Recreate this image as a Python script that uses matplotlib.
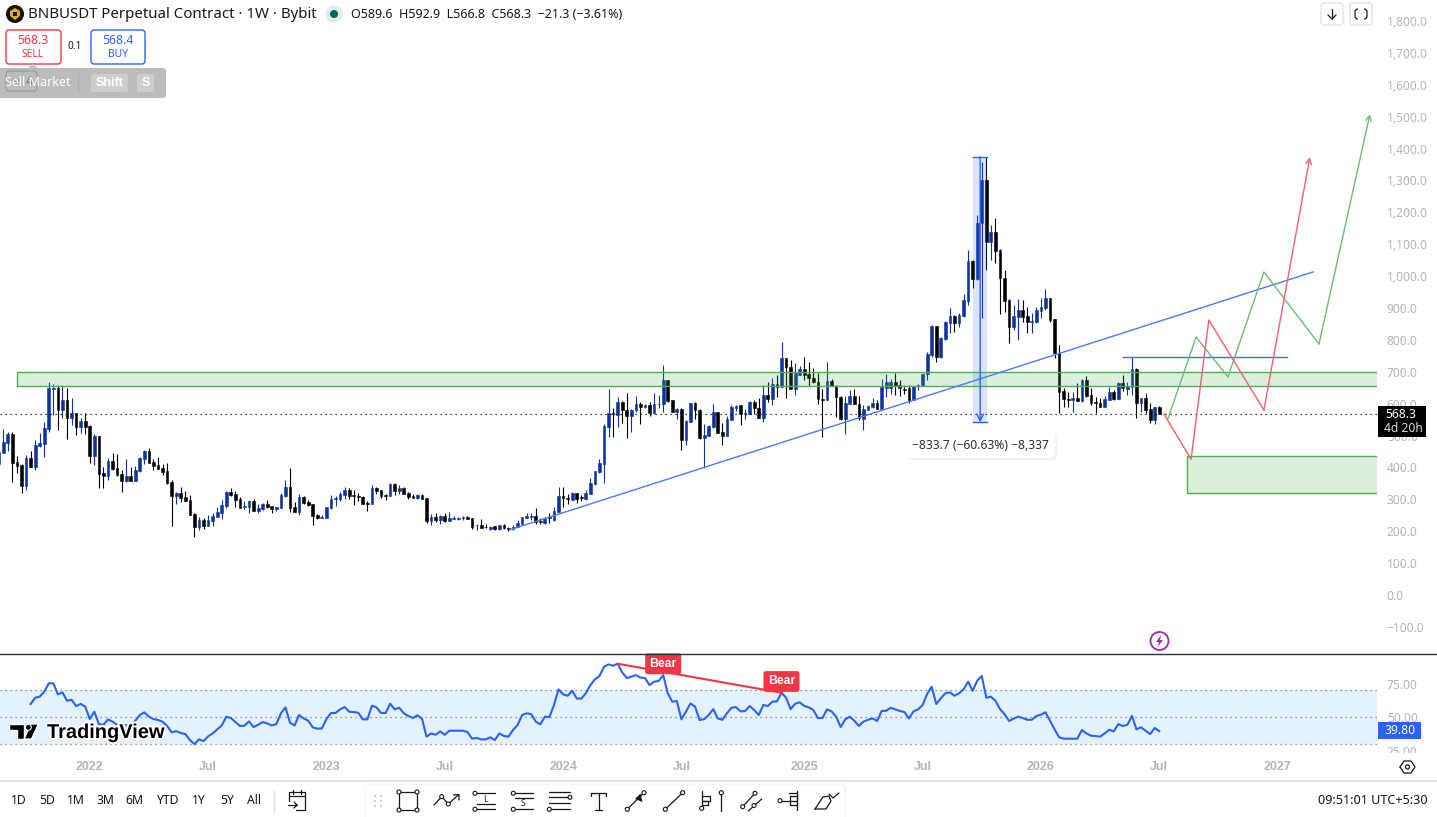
import numpy as np
import matplotlib
matplotlib.use("Agg")
import matplotlib.pyplot as plt
from matplotlib.patches import Circle, FancyBboxPatch, Polygon, Rectangle
import matplotlib.patheffects as pe

plt.rcParams['font.family'] = ['Noto Sans', 'DejaVu Sans']
BOLD_FONT = ['Liberation Sans', 'DejaVu Sans']

WIDTH, HEIGHT = 1437, 817
PANE_RIGHT = 1377
PRICE_BOTTOM = 653
RSI_BOTTOM = 753

UP_COLOR = '#0F339C'
DOWN_COLOR = '#000000'
TV_BLUE = '#2962FF'
TV_RED = '#F23645'
ZONE_GREEN = '#4CAF50'
AXIS_GRAY = '#B5B5B5'
TEXT_DARK = '#131722'

# weekly candles
opens = [411,446,477,505,417,408,342,430,401,467,
         473,521,646,649,580,611,555,571,527,546,
         530,436,499,383,373,420,398,379,357,373,
         357,389,426,452,417,408,398,389,354,310,
         320,307,298,254,213,235,216,232,245,257,
         279,323,317,301,276,276,295,263,270,285,
         279,270,273,310,339,276,260,307,292,285,
         251,241,241,273,301,301,314,329,314,310,
         307,289,285,336,329,314,310,348,326,336,
         320,310,304,314,304,232,245,235,248,232,
         238,238,241,245,241,218,220,213,208,217,
         206,218,209,208,212,222,243,245,248,232,
         227,245,235,260,310,303,298,320,306,300,
         317,348,386,411,527,571,564,605,580,561,
         580,599,590,597,571,598,599,674,611,574,
         583,486,543,602,580,492,499,527,574,511,
         499,549,586,596,568,568,605,586,555,627,
         615,662,652,743,716,646,690,709,693,680,
         667,616,611,671,655,621,552,599,624,599,
         552,581,590,602,583,649,650,668,658,646,
         649,611,656,658,693,753,845,745,803,852,
         876,854,876,923,1047,990,1165,1301,1108,1137,
         1082,993,925,841,873,893,876,857,857,891,
         901,930,865,760,641,614,612,617,609,674,
         627,606,601,591,612,638,616,664,647,653,
         709,603,617,582,549,589.6]
highs = [447,519,510,511,436,410,439,452,486,507,
         542,667,662,658,658,649,618,571,555,571,
         533,505,499,401,430,445,442,392,426,401,
         405,433,455,461,426,433,411,414,361,323,
         339,326,314,257,245,241,251,257,276,298,
         326,336,326,307,295,298,301,285,289,298,
         279,276,320,361,398,292,317,310,298,285,
         254,251,276,314,310,323,339,336,329,320,
         310,295,345,339,329,317,351,351,345,339,
         323,317,317,317,304,254,257,251,257,260,
         248,245,248,248,241,223,238,223,215,217,
         219,222,214,219,235,245,258,256,272,240,
         246,258,277,339,339,317,323,320,313,329,
         366,389,427,537,646,585,621,608,633,583,
         624,605,600,605,633,627,721,674,611,586,
         586,549,602,605,583,536,533,599,574,539,
         561,596,596,596,583,608,611,618,658,667,
         679,690,792,743,737,726,718,746,731,712,
         696,646,730,677,659,624,624,643,646,624,
         596,596,618,611,677,693,677,695,674,659,
         659,655,661,695,763,847,845,808,860,899,
         878,883,944,1082,1050,1192,1359,1375,1160,1181,
         1084,1019,927,909,928,925,904,883,904,930,
         959,930,865,784,648,638,638,666,676,687,
         648,620,617,624,653,643,669,690,669,745,
         711,617,633,601,591,592.9]
lows = [411,446,452,354,384,321,329,401,392,464,
        433,511,564,517,555,489,533,502,508,505,
        414,408,336,336,361,392,373,323,354,357,
        357,386,411,414,392,395,376,348,216,285,
        292,295,251,182,204,207,216,216,245,238,
        273,310,276,273,270,257,263,257,267,273,
        257,263,273,307,260,260,251,285,279,220,
        238,241,241,270,279,295,301,301,282,295,
        285,263,285,317,304,298,310,314,317,317,
        301,304,301,301,226,220,229,223,229,232,
        238,235,235,238,207,204,210,209,204,205,
        204,206,202,204,212,222,241,235,223,223,
        223,227,233,260,277,285,298,290,296,298,
        317,345,383,351,496,495,527,540,492,511,
        574,536,585,561,567,586,574,605,574,552,
        455,470,543,552,489,398,499,524,508,470,
        499,549,577,533,552,568,568,555,543,605,
        596,621,652,618,646,627,690,674,655,664,
        599,495,611,655,558,549,505,599,599,549,
        517,580,586,583,583,621,630,627,624,630,
        603,610,643,655,674,745,732,742,800,821,
        826,841,873,910,962,988,868,1019,1051,1040,
        880,888,791,831,800,857,821,823,852,868,
        894,857,742,572,589,591,575,609,606,622,
        596,570,589,589,610,610,614,641,627,627,
        556,575,570,538,536,566.8]
closes = [447,480,505,415,405,342,430,401,470,477,
          524,649,649,580,611,555,571,527,546,527,
          436,499,379,373,420,395,376,357,373,357,
          392,430,452,414,405,395,386,351,310,320,
          304,295,251,213,235,216,235,248,260,282,
          323,314,298,273,279,295,263,273,285,276,
          270,276,314,339,273,260,307,289,282,248,
          241,245,276,301,304,317,329,310,310,307,
          285,285,336,326,310,310,348,326,336,317,
          307,304,314,301,232,245,235,248,232,241,
          241,241,245,238,213,220,210,212,213,206,
          218,209,208,213,226,244,248,248,230,228,
          241,240,262,310,304,301,320,301,303,320,
          351,388,414,530,571,568,605,580,561,580,
          599,590,597,571,599,600,674,608,574,583,
          486,546,602,580,492,502,530,574,508,499,
          552,590,592,568,571,605,586,555,627,615,
          662,652,743,716,646,695,709,690,680,667,
          615,613,671,655,621,552,602,624,599,555,
          583,593,602,583,652,668,668,658,649,644,
          612,655,658,693,756,845,745,807,855,876,
          854,878,925,1047,990,1165,1301,1108,1137,1080,
          993,923,841,876,893,873,857,859,893,902,
          930,862,758,638,614,612,617,609,674,624,
          601,601,591,614,638,614,666,648,655,709,
          603,617,580,549,591,568.3]

# RSI of the close, first value sits on candle number 7
rsi_start = 7
rsi_values = [59.9,64.5,65.3,69,75.2,75.2,67,68.5,62.3,63,
              58.4,59.9,57.9,48.7,54.2,45,44.5,48.5,46.8,44.5,
              42.6,44.3,43.6,47.5,51.7,53.7,50.5,48.7,48,46.8,
              43.6,38.9,39.8,38.4,37.6,33.2,30.2,33.7,32.4,35.9,
              38.1,41.1,44,50.5,49.5,46.5,43.6,43.8,47,42.8,
              44.5,46.5,45.5,44,45,53,57.4,46,44,51.7,
              49.2,47.5,42.6,41.6,41.8,48.7,53.2,53.2,55.9,57.6,
              54.2,53.9,53.4,48.5,48.5,58.6,57.4,53.2,53.2,60.1,
              55.9,57.1,53,51,49.5,51.5,49,35.7,38.1,37.1,
              39.6,37.1,40.1,40.1,40.1,40.1,39.1,34.2,34.7,33.7,
              33.7,35.2,33.2,38.1,36.2,35.7,40.6,44.3,51.7,53,
              52.4,46.8,44.8,50.5,50.2,59.1,70.7,67,66,69.7,
              64,63.8,67.8,73.9,78.1,80.6,87.5,89.2,88.2,89.7,
              83.3,79.1,80.1,81.3,79.4,79.1,73.9,76.4,76.9,81.3,
              67.8,61.6,62.1,48.5,54.2,60.3,57.9,48,48.7,51.7,
              56.1,49.2,48.2,53,57.1,57.6,54.4,54.7,58.4,55.4,
              51.7,59.1,58.4,61.6,61.8,68.2,64.5,56.1,60.1,61.1,
              58.4,57.4,55.4,49.5,49.5,55.9,54.4,50.5,42.8,48.5,
              50.5,47.5,43.6,46.8,48.2,49.2,47.3,54.7,54.9,57.1,
              55.9,54.7,53.9,49.2,54.4,55.9,59.1,67.3,72.7,59.9,
              64,67.8,68.5,66,67.8,70.7,76.4,69.7,77.1,80.6,
              64.5,65.3,62.3,56.1,52.4,47.3,49,50.5,49.5,48.2,
              48.2,51,52,53.7,47.5,41.1,35.2,34.2,34.2,34.2,
              34.2,40.6,38.1,36.4,36.2,35.7,38.1,40.8,39.6,45,
              43.6,44.5,51,41.1,42.6,40.1,37.6,42.1,39.8]

price_ticks = [-100,0,100,200,300,400,500,600,700,800,900,1000,1100,1200,1300,1400,1500,1600,1700,1800]
rsi_ticks = [25,50,75]
time_ticks = [20,46,72,98,124,150,177,203,229,255,281]
time_labels = ['2022','Jul','2023','Jul','2024','Jul','2025','Jul','2026','Jul','2027']
range_buttons = ['1D','5D','1M','3M','6M','YTD','1Y','5Y','All']
range_button_x = [19,47,76,105,134,167,199,227,254]

last_price = 568.3
last_rsi = 39.80

# drawings on the price pane, as (bar number, price)
zone_upper = (4.0, 654, 698)
zone_lower = (261.1, 320, 436)
trend_x = [112.2, 288.8]
trend_y = [204, 1013]
resistance_x = [247, 283]
resistance_y = [745, 745]
green_path_x = [256.9, 263.1, 270.1, 278.0, 290.1, 301.3]
green_path_y = [552, 809, 684, 1013, 787, 1508]
red_path_x = [256.0, 262.0, 265.9, 278.0, 288.1]
red_path_y = [568, 426, 862, 580, 1373]
measure_left, measure_right = 214.1, 217.2
measure_top = 1375.0
measure_change = -833.7
measure_bottom = measure_top + measure_change
divergence_bars = [136, 172]
bear_bars = [146, 172]

fig = plt.figure(figsize=(WIDTH / 100, HEIGHT / 100), dpi=100, facecolor='white')
ax = fig.add_axes([0, 1 - PRICE_BOTTOM / HEIGHT, PANE_RIGHT / WIDTH, PRICE_BOTTOM / HEIGHT])
ax_rsi = fig.add_axes([0, 1 - RSI_BOTTOM / HEIGHT, PANE_RIGHT / WIDTH, (RSI_BOTTOM - PRICE_BOTTOM - 1) / HEIGHT])
ui = fig.add_axes([0, 0, 1, 1], zorder=5)
ui.set_xlim(0, WIDTH)
ui.set_ylim(HEIGHT, 0)
ui.axis('off')
ui.patch.set_alpha(0)

# x scale is shared: one bar is 4.55 px wide
bar_left = 0.275
bar_right = 302.85
for a in (ax, ax_rsi):
    a.set_xlim(bar_left, bar_right)
    for s in a.spines.values():
        s.set_visible(False)
    a.yaxis.tick_right()
    a.tick_params(axis='both', length=0, labelcolor=AXIS_GRAY, labelsize=8.6)
    a.tick_params(axis='y', pad=7)

# === price pane ===
ax.set_ylim(-181.9, 1865.8)
ax.set_xticks([])
ax.set_yticks(price_ticks)
ax.set_yticklabels([f"{v:,.1f}".replace('-', '\u2212') for v in price_ticks])

bars = np.arange(len(opens))
o = np.array(opens)
h = np.array(highs)
l = np.array(lows)
c = np.array(closes)
colors = np.where(c >= o, UP_COLOR, DOWN_COLOR)
ax.vlines(bars, l, h, colors=colors, linewidth=0.8, zorder=2)
ax.bar(bars, c - o, bottom=o, width=0.6, color=colors, edgecolor=colors, linewidth=0.4, zorder=3)

ax.axhline(last_price, color='black', linewidth=0.9, linestyle=(0, (1, 3)), zorder=4)

for left, low, high in (zone_upper, zone_lower):
    ax.add_patch(Rectangle((left, low), bar_right - left, high - low, facecolor=ZONE_GREEN, alpha=0.2,
                           edgecolor='none', zorder=4))
    ax.plot([bar_right, left, left, bar_right], [low, low, high, high], color=ZONE_GREEN, linewidth=1, zorder=5)

ax.plot(trend_x, trend_y, color='#4A7BFF', linewidth=1, zorder=5)
ax.plot(resistance_x, resistance_y, color='#3D6FF5', linewidth=1, zorder=5)

ax.plot(green_path_x[:-1], green_path_y[:-1], color='#6ABF6E', linewidth=1, zorder=5)
ax.annotate('', xy=(green_path_x[-1], green_path_y[-1]), xytext=(green_path_x[-2], green_path_y[-2]),
            arrowprops=dict(arrowstyle='->', color='#6ABF6E', lw=1, shrinkA=0, shrinkB=0, mutation_scale=10), zorder=5)
ax.plot(red_path_x[:-1], red_path_y[:-1], color='#F4606C', linewidth=1, zorder=5)
ax.annotate('', xy=(red_path_x[-1], red_path_y[-1]), xytext=(red_path_x[-2], red_path_y[-2]),
            arrowprops=dict(arrowstyle='->', color='#F4606C', lw=1, shrinkA=0, shrinkB=0, mutation_scale=10), zorder=5)

# price range measurement
ax.add_patch(Rectangle((measure_left, measure_bottom), measure_right - measure_left, measure_top - measure_bottom,
                       facecolor=TV_BLUE, alpha=0.16, edgecolor='none', zorder=4))
ax.plot([measure_left, measure_right], [measure_top, measure_top], color=TV_BLUE, linewidth=1, zorder=6)
ax.plot([measure_left, measure_right], [measure_bottom, measure_bottom], color=TV_BLUE, linewidth=1, zorder=6)
measure_mid = (measure_left + measure_right) / 2
ax.annotate('', xy=(measure_mid, measure_bottom), xytext=(measure_mid, measure_top),
            arrowprops=dict(arrowstyle='->', color=TV_BLUE, lw=1, shrinkA=0, shrinkB=0, mutation_scale=12), zorder=6)

# === RSI pane ===
ax_rsi.set_ylim(23.6, 96.9)
rsi_x = np.arange(rsi_start, rsi_start + len(rsi_values))
ax_rsi.axhspan(30, 70, facecolor='#E3F2FD', edgecolor='none', zorder=1)
for level in (30, 50, 70):
    ax_rsi.axhline(level, color='#787B86', linewidth=0.9, linestyle=(0, (1, 3)), zorder=2)
ax_rsi.plot(rsi_x, rsi_values, color=TV_BLUE, linewidth=1.5, zorder=3)

rsi_at = dict(zip(rsi_x, rsi_values))
ax_rsi.plot(divergence_bars, [rsi_at[b] for b in divergence_bars], color=TV_RED, linewidth=1.5, zorder=4)
for b in bear_bars:
    ax_rsi.annotate('Bear', xy=(b, rsi_at[b]), xytext=(0, 3.8), textcoords='offset points', ha='center', va='bottom',
                    color='white', fontsize=8.8, fontweight='bold', family=BOLD_FONT, zorder=6,
                    bbox=dict(boxstyle='round,pad=0.36,rounding_size=0.2', facecolor=TV_RED, edgecolor='none'))

ax_rsi.set_yticks(rsi_ticks)
ax_rsi.set_yticklabels([f"{v:.2f}" for v in rsi_ticks])
ax_rsi.set_xticks(time_ticks)
ax_rsi.set_xticklabels(time_labels)
ax_rsi.tick_params(axis='x', pad=5.5)
for lab in ax_rsi.get_xticklabels():
    lab.set_fontweight('bold')
    lab.set_family(BOLD_FONT)
    lab.set_fontsize(9)


# === chart furniture, in pixel coordinates ===
def seg(xs, ys, color=TEXT_DARK, lw=0.9):
    ui.plot(xs, ys, color=color, linewidth=lw, solid_capstyle='round', zorder=5)


def knob(x, y, r=2.0):
    ui.add_patch(Circle((x, y), r, facecolor='white', edgecolor=TEXT_DARK, linewidth=0.8, zorder=6))


def box(x0, y0, x1, y1, face='white', edge='none', round_px=3, lw=1.0, alpha=None, zorder=3):
    ui.add_patch(FancyBboxPatch((x0, y0), x1 - x0, y1 - y0, boxstyle=f'round,pad=0,rounding_size={round_px}',
                                facecolor=face, edgecolor=edge, linewidth=lw, alpha=alpha, zorder=zorder))


def label(x, y, s, color=TEXT_DARK, size=9, ha='center', weight='normal', zorder=7, **kw):
    return ui.text(x, y, s, color=color, fontsize=size, ha=ha, va='center', fontweight=weight, zorder=zorder, **kw)


# pane separators
seg([0, WIDTH], [653.5, 653.5], color='#2A2E39', lw=1)
seg([0, WIDTH], [781, 781], color='#E0E3EB', lw=1.4)
ui.add_patch(Rectangle((1378, RSI_BOTTOM), WIDTH - 1378, 7, facecolor='white', edgecolor='none', zorder=2))

# header
ui.add_patch(Circle((15, 14), 9, facecolor='#111111', edgecolor='none'))
ui.add_patch(Polygon([(10, 11), (15, 8), (20, 11), (20, 16), (15, 20), (10, 16)], facecolor='#E8A912', edgecolor='none', zorder=4))
ui.add_patch(Rectangle((13, 12), 4, 4, facecolor='#111111', edgecolor='none', zorder=5))
label(28, 14, 'BNBUSDT Perpetual Contract \u00b7 1W \u00b7 Bybit', size=10.8, ha='left')
ui.add_patch(Circle((334, 14), 8.5, facecolor='#DDF0EC', edgecolor='none'))
ui.add_patch(Circle((334, 14), 4, facecolor='#00695C', edgecolor='none', zorder=4))
label(351, 14, 'O589.6  H592.9  L566.8  C568.3  \u221221.3 (\u22123.61%)', size=9.0, ha='left')

# order buttons
box(6, 30, 61, 64, edge=TV_RED)
label(33, 40, '568.3', color=TV_RED, size=8.8)
label(33, 54, 'SELL', color=TV_RED, size=7.4)
label(75, 46, '0.1', size=7.2)
box(91, 30, 145, 64, edge=TV_BLUE)
label(118, 40, '568.4', color=TV_BLUE, size=8.8)
label(118, 54, 'BUY', color=TV_BLUE, size=7.4)

# quantity box showing through the order hint
box(6, 71, 37, 91, edge='#777777', lw=0.8)
seg([13, 16, 19], [80, 83, 80], color=TEXT_DARK)
label(29, 81, '4', size=8.8, zorder=4)
box(-4, 68, 166, 98, face='#A0A0A0', round_px=3, alpha=0.7, zorder=6)
ui.add_patch(Polygon([(28, 68), (33, 64), (38, 68)], facecolor='#C4C4C4', edgecolor='none', zorder=5))
label(5, 82, 'Sell Market', color='white', size=9.0, ha='left')
seg([78, 78], [74, 92], color='#CCCCCC', lw=0.8)
box(91, 74, 128, 92, face='#CDCDCD', round_px=2, zorder=6)
label(109.5, 83, 'Shift', color='white', size=9, weight='bold', family=BOLD_FONT)
box(137, 74, 154, 92, face='#CDCDCD', round_px=2, zorder=6)
label(145.5, 83, 'S', color='white', size=9, weight='bold', family=BOLD_FONT)

# top right buttons
box(1321, 3, 1343, 25, edge='#E0E3EB')
seg([1332, 1332], [9, 19])
seg([1328, 1332, 1336], [15, 19, 15])
box(1350, 3, 1372, 25, edge='#E0E3EB')
ui.add_patch(FancyBboxPatch((1355, 9), 12, 10, boxstyle='round,pad=0,rounding_size=3', facecolor='none',
                            edgecolor=TEXT_DARK, linewidth=0.9, zorder=5))
ui.add_patch(Rectangle((1358, 7), 6, 4, facecolor='white', edgecolor='none', zorder=5))
ui.add_patch(Rectangle((1358, 17), 6, 4, facecolor='white', edgecolor='none', zorder=5))

# measurement tag
box(908, 434, 1057, 460, face='#000000', round_px=4, alpha=0.05, zorder=3)
box(906, 432, 1055, 458, face='white', round_px=4, zorder=4)
label(980.5, 445, f'\u2212{abs(measure_change)} (\u221260.63%) \u22128,337', size=8.7, color='#2A2E39')

# last price tags
ui.add_patch(Rectangle((1378, 406), 48, 31, facecolor='black', edgecolor='none', zorder=4))
label(1401, 414.5, f'{last_price}', color='white', size=8.7)
label(1403, 428.5, '4d 20h', color='#D8D8D8', size=8.7)
ui.add_patch(Rectangle((1378, 722), 43, 17, facecolor=TV_BLUE, edgecolor='none', zorder=4))
label(1400, 730.5, f'{last_rsi:.2f}', color='white', size=8.7)

# lightning badge
ui.add_patch(Circle((1159.5, 641), 9, facecolor='white', edgecolor='#9C27B0', linewidth=1.3))
ui.add_patch(Polygon([(1161, 635), (1156, 642), (1159, 642), (1157.5, 647), (1163, 640), (1160, 640)],
                     facecolor='#9C27B0', edgecolor='none', zorder=4))

# TradingView mark
halo = [pe.withStroke(linewidth=3, foreground='white')]
mark_t = Polygon([(9, 724), (23.5, 724), (23.5, 739), (16.5, 739), (16.5, 730), (9, 730)], facecolor='black', edgecolor='white', linewidth=1, zorder=6)
mark_slash = Polygon([(31, 724), (38.5, 724), (31.5, 739), (24, 739)], facecolor='black', edgecolor='white', linewidth=1, zorder=6)
ui.add_patch(mark_t)
ui.add_patch(mark_slash)
ui.add_patch(Circle((28.3, 727.3), 3, facecolor='black', edgecolor='white', linewidth=0.8, zorder=6))
label(47, 732.5, 'TradingView', color='black', size=14.4, ha='left', weight='bold', family=BOLD_FONT, path_effects=halo)

# settings hexagon below the scale
hex_x = [1400, 1404, 1411, 1415, 1411, 1404, 1400]
hex_y = [767, 761, 761, 767, 773, 773, 767]
seg(hex_x, hex_y)
ui.add_patch(Circle((1407.5, 767), 2, facecolor='none', edgecolor=TEXT_DARK, linewidth=0.9))

# bottom bar
for name, x in zip(range_buttons, range_button_x):
    label(x, 801, name, size=8.8)
seg([273.5, 273.5], [790, 812], color='#E0E3EB', lw=1)
seg([289, 289, 305, 305, 296], [801, 792, 792, 810, 810])
seg([289, 305], [796, 796])
seg([293, 293], [790, 794])
seg([301, 301], [790, 794])
seg([288, 297], [805, 805])
seg([294, 297, 294], [802, 805, 808])
label(1428, 801, '09:51:01 UTC+5:30', size=9.1, ha='right')

# drawing toolbar
box(365, 784, 845, 824, face='white', edge='#F0F3FA', round_px=5, lw=1, zorder=2)
for gx in (374.5, 381):
    for gy in (796, 801, 806):
        ui.add_patch(Rectangle((gx - 1, gy - 1), 2, 2, facecolor='#C9CBD1', edgecolor='none', zorder=4))

# rectangle tool
seg([399, 417, 417, 399, 399], [792, 792, 810, 810, 792])
for kx, ky in ((399, 792), (417, 792), (417, 810), (399, 810)):
    knob(kx, ky)
# polyline tool
seg([434, 441.7, 448.3, 458.3], [805, 796.7, 804, 795])
seg([453.5, 459, 459], [795, 794.5, 800])
knob(441.7, 796.7)
knob(448.3, 804)
# long / short position tools
for lx, tag, tag_y in ((475, 'L', 799), (513.3, 'S', 804)):
    seg([lx + 2, lx + 20], [793.3, 793.3])
    seg([lx + 2, lx + 20], [809.3, 809.3])
    seg([lx + 2, lx + 20], [798 if tag == 'S' else 804, 798 if tag == 'S' else 804])
    knob(lx, 793.3)
    knob(lx, 809.3)
    label(lx + 10, tag_y, tag, size=6.2)
# parallel levels tool
for ly in (792, 797.3, 803, 809.3):
    seg([549, 570], [ly, ly])
knob(570, 797.3)
knob(549.3, 809.3)
# text tool
seg([591, 606], [793, 793])
seg([591, 591], [793, 796])
seg([606, 606], [793, 796])
seg([598.5, 598.5], [793, 809.5])
seg([595, 602], [809.5, 809.5])
# arrow tool
seg([627.3, 644], [809.3, 792.7])
ui.add_patch(Polygon([(640.5, 793.5), (642.5, 802), (635, 799)], facecolor=TEXT_DARK, edgecolor='none', zorder=5))
knob(627.3, 809.3)
knob(644, 792.7)
# trend line tool
seg([665.3, 682.7], [809.3, 792.7])
knob(665.3, 809.3)
knob(682.7, 792.7)
# volume profile tool
seg([702, 702], [791, 809])
seg([702, 710, 710, 702], [796, 796, 801, 801])
seg([702, 708, 708, 702], [801, 801, 805, 805])
knob(701.7, 808.3)
seg([721.3, 721.3], [793, 811])
knob(721.3, 792.7)
# parallel channel tool
seg([742.7, 755], [806.7, 793.3])
seg([748.3, 761.7], [811, 799])
knob(742.7, 806.7)
knob(755, 793.3)
knob(754, 805.5)
# fixed range profile tool
seg([797.3, 797.3], [791, 810])
seg([780, 797, 797, 790, 790, 797], [800.7, 800.7, 796, 796, 805, 805])
seg([789, 797], [792.5, 792.5])
knob(780, 800.7)
# brush tool
seg([815, 826, 831, 829, 823, 815], [809, 809, 801, 796, 797, 809])
seg([829, 833, 839], [794, 798, 793])

fig.savefig('out.png', dpi=100)
